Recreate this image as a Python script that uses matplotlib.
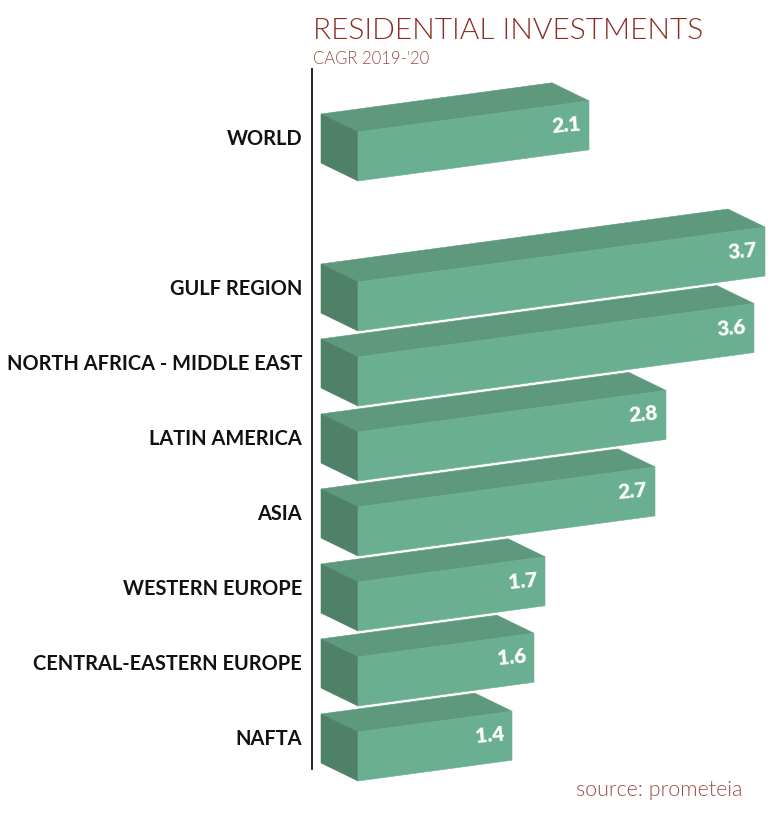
import matplotlib
matplotlib.use("Agg")
import matplotlib.pyplot as plt
from matplotlib.patches import Polygon

# ---- data ----
categories = ["WORLD", "GULF REGION", "NORTH AFRICA - MIDDLE EAST", "LATIN AMERICA",
              "ASIA", "WESTERN EUROPE", "CENTRAL-EASTERN EUROPE", "NAFTA"]
values = [2.1, 3.7, 3.6, 2.8, 2.7, 1.7, 1.6, 1.4]
value_labels = ["2.1", "3.7", "3.6", "2.8", "2.7", "1.7", "1.6", "1.4"]
slots = [0, 2, 3, 4, 5, 6, 7, 8]   # vertical slot of each bar (gap after WORLD)

title = "RESIDENTIAL INVESTMENTS"
subtitle = "CAGR 2019-'20"
source = "source: prometeia"

# ---- style ----
FRONT = "#6aaf91"
TOP = "#5e997d"
SIDE = "#4f8068"
RED = "#8c2d24"
SUB = "#9a4d45"
FONT = ["Lato", "DejaVu Sans"]

W, H = 775, 820
fig = plt.figure(figsize=(W / 100, H / 100), dpi=100)
fig.patch.set_facecolor("white")

# axes: x in value units, y in slot units (downwards)
px_per_val = 110.0
px_per_slot = 75.0
x0_px, y0_px = 358.0, 182.0
ax_l, ax_r, ax_t, ax_b = 300.0, 775.0, 60.0, 800.0
ax = fig.add_axes([ax_l / W, 1 - ax_b / H, (ax_r - ax_l) / W, (ax_b - ax_t) / H])
ax.set_xlim((ax_l - x0_px) / px_per_val, (ax_r - x0_px) / px_per_val)
ax.set_ylim((ax_b - y0_px) / px_per_slot, (ax_t - y0_px) / px_per_slot)
ax.set_facecolor("none")

# bar geometry (in data units)
slope = 0.135 * px_per_val / px_per_slot      # rise in slots per value unit
h = 49.0 / px_per_slot                           # front-face height
dx = -37.0 / px_per_val                          # depth offset x
dy = -18.0 / px_per_slot                         # depth offset y

for cat, v, lab, s in zip(categories, values, value_labels, slots):
    bl = (0.0, s)
    br = (v, s - slope * v)
    tl = (0.0, s - h)
    tr = (v, s - h - slope * v)
    tlb = (tl[0] + dx, tl[1] + dy)
    trb = (tr[0] + dx, tr[1] + dy)
    blb = (bl[0] + dx, bl[1] + dy)
    for pts, col in (([tl, tr, trb, tlb], TOP),
                     ([tl, bl, blb, tlb], SIDE),
                     ([bl, br, tr, tl], FRONT)):
        ax.add_patch(Polygon(pts, closed=True, facecolor=col, edgecolor=col,
                             lw=0.4, joinstyle="miter"))
    # value label
    ax.text(v - 8.0 / px_per_val, tr[1] + 22.0 / px_per_slot, lab,
            ha="right", va="center", color="white", fontsize=15,
            fontweight="heavy", family=FONT, rotation=5, rotation_mode="anchor")
    # category label
    ax.text(-56.0 / px_per_val, s - 43.0 / px_per_slot, cat, ha="right", va="center",
            color="#111111", fontsize=14.4, fontweight="bold", family=FONT, clip_on=False)

# vertical axis line (left spine)
for side in ("top", "right", "bottom"):
    ax.spines[side].set_visible(False)
ax.spines["left"].set_position(("data", -46.0 / px_per_val))
ax.spines["left"].set_bounds((70 - y0_px) / px_per_slot, (770 - y0_px) / px_per_slot)
ax.spines["left"].set_linewidth(1.3)
ax.spines["left"].set_color("#111111")
ax.set_xticks([])
ax.set_yticks([])

# titles
fig.text(313 / W, 1 - 31 / H, title, ha="left", va="center", color=RED,
         fontsize=21.5, fontweight=300, family=FONT)
fig.text(313 / W, 1 - 59 / H, subtitle, ha="left", va="center", color=SUB,
         fontsize=12, fontweight=300, family=FONT)
fig.text(742 / W, 1 - 790 / H, source, ha="right", va="center", color=SUB,
         fontsize=15.5, fontweight=300, family=FONT)

fig.savefig("out.png", dpi=100, facecolor="white")
